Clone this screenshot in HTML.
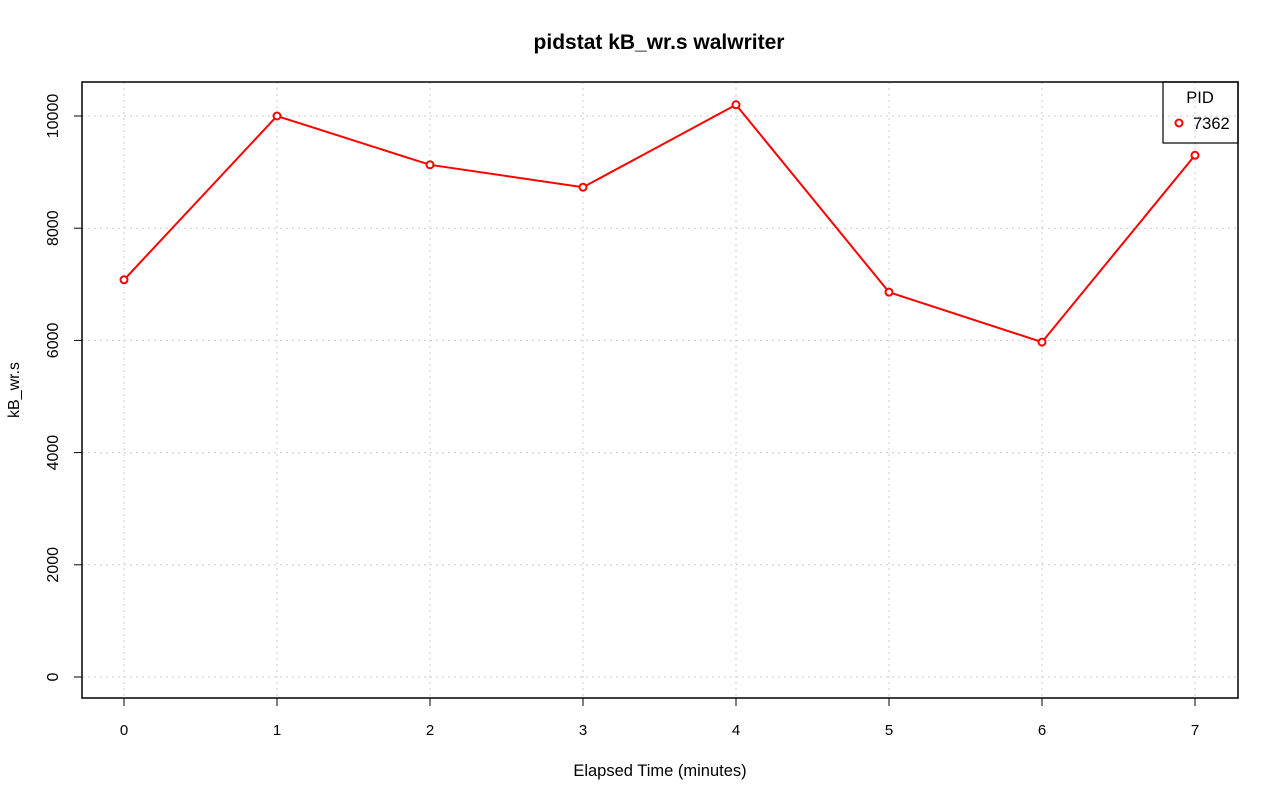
<!DOCTYPE html>
<html><head><meta charset="utf-8"><style>
body{margin:0;background:#fff;}
svg{display:block;font-family:"Liberation Sans",sans-serif;}
</style></head><body>
<svg id="chart" width="1280" height="801">
<text x="659" y="49" text-anchor="middle" font-size="21" font-weight="bold">pidstat kB_wr.s walwriter</text>
<text x="660" y="776" text-anchor="middle" font-size="16.5">Elapsed Time (minutes)</text>
<text transform="translate(19,390) rotate(-90)" text-anchor="middle" font-size="16">kB_wr.s</text>
<g id="grid"></g><g id="axes"></g><g id="series"></g>
<rect x="82" y="82" width="1156" height="616" fill="none" stroke="#000" stroke-width="1.5"/>
<g>
<rect x="1163" y="82" width="75" height="61" fill="none" stroke="#000" stroke-width="1.2"/>
<text x="1200" y="103" text-anchor="middle" font-size="16.5">PID</text>
<circle cx="1179" cy="123" r="3.5" fill="#fff" stroke="#f00" stroke-width="2"/>
<text x="1193" y="129" font-size="16.5">7362</text>
</g>
</svg>
<script>
const categories=[0,1,2,3,4,5,6,7];
const values=[7080,10000,9130,8730,10200,6860,5970,9300];
const yTicks=[0,2000,4000,6000,8000,10000];
const NS="http://www.w3.org/2000/svg";
function xs(v){return 124+v*153;}
function ys(v){return 677-v*0.0561;}
function mk(tag,attrs,parent){const e=document.createElementNS(NS,tag);for(const k in attrs)e.setAttribute(k,attrs[k]);document.getElementById(parent).appendChild(e);return e;}
categories.forEach(c=>{
  let g=mk('line',{x1:xs(c),x2:xs(c),y1:82,y2:698,stroke:'#ccc','stroke-dasharray':'2,4'},'grid');
  
  
  let t=mk('line',{x1:xs(c),x2:xs(c),y1:698,y2:706,stroke:'#000'},'axes');
  
  
  let l=mk('text',{x:xs(c),y:735,'text-anchor':'middle','font-size':15},'axes');l.textContent=c;
  
  
});
yTicks.forEach(v=>{
  let g=mk('line',{x1:82,x2:1238,y1:ys(v),y2:ys(v),stroke:'#ccc','stroke-dasharray':'2,4'},'grid');
  
  
  let t=mk('line',{x1:74,x2:82,y1:ys(v),y2:ys(v),stroke:'#000'},'axes');
  
  
  let l=mk('text',{transform:`translate(58,${ys(v)}) rotate(-90)`,'text-anchor':'middle','font-size':16},'axes');l.textContent=v;
  
  
});
let p=mk('polyline',{points:categories.map((c,i)=>xs(c)+','+ys(values[i])).join(' '),fill:'none',stroke:'#f00','stroke-width':2},'series');


categories.forEach((c,i)=>{
  let pt=mk('circle',{cx:xs(c),cy:ys(values[i]),r:3.5,fill:'#fff',stroke:'#f00','stroke-width':2},'series');
  
  
});
</script>
</body></html>
